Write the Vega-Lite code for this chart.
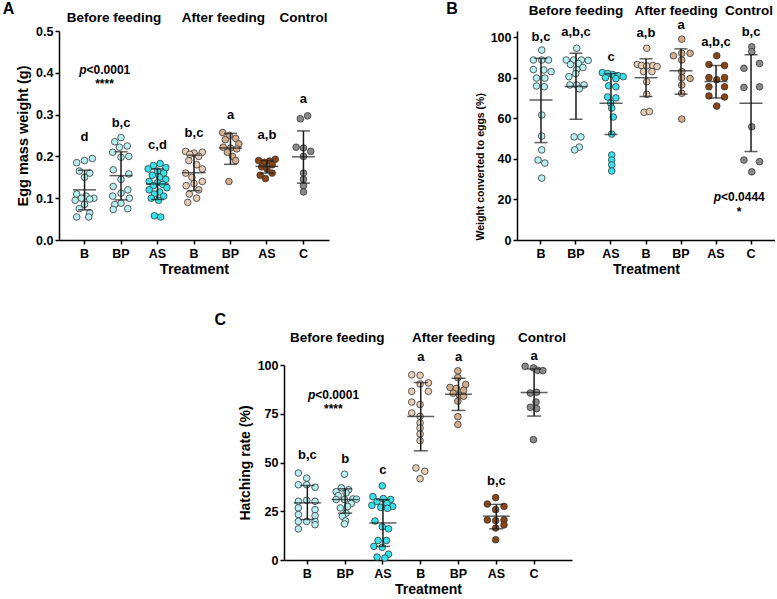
{
"$schema": "https://vega.github.io/schema/vega-lite/v6.json",
"padding": {"left": 2, "top": 0, "right": 0, "bottom": 0},
"background": "white",
"config": {
  "view": {"stroke": null},
  "font": "Liberation Sans",
  "axis": {"labelFont": "Liberation Sans", "labelFontWeight": "bold", "labelFontSize": 12.5, "labelColor": "#000", "titleFont": "Liberation Sans", "titleFontWeight": "bold", "titleFontSize": 14, "titleColor": "#000", "domainColor": "#000", "domainWidth": 1.5, "tickColor": "#000", "tickWidth": 1.5, "tickSize": 4, "grid": false},
  "axisX": {"labelAngle": 0, "labelPadding": 3, "titlePadding": 3},
  "axisY": {"labelPadding": 2, "titlePadding": 5},
  "text": {"font": "Liberation Sans", "fontWeight": "bold", "fontSize": 13, "baseline": "middle", "color": "#000"},
  "tick": {"color": "#1a1a1a", "thickness": 1.5},
  "rule": {"color": "#1a1a1a", "strokeWidth": 1.5},
  "circle": {"opacity": 1, "stroke": "#333", "strokeWidth": 0.8, "size": 44}
},
"datasets": {
"pts": [
{"p":"A","g":"1B","v":0.195,"l":1.5},{"p":"A","g":"1B","v":0.19,"l":0},{"p":"A","g":"1B","v":0.185,"l":-1.5},{"p":"A","g":"1B","v":0.165,"l":-1},{"p":"A","g":"1B","v":0.16,"l":1},{"p":"A","g":"1B","v":0.15,"l":0},{"p":"A","g":"1B","v":0.11,"l":-1.5},{"p":"A","g":"1B","v":0.105,"l":0.3},{"p":"A","g":"1B","v":0.1,"l":1.8},{"p":"A","g":"1B","v":0.1,"l":-0.6},{"p":"A","g":"1B","v":0.098,"l":1},{"p":"A","g":"1B","v":0.095,"l":-1.8},{"p":"A","g":"1B","v":0.085,"l":0},{"p":"A","g":"1B","v":0.075,"l":-1},{"p":"A","g":"1B","v":0.065,"l":1},{"p":"A","g":"1B","v":0.055,"l":-1.5},{"p":"A","g":"1B","v":0.055,"l":0.8},
{"p":"A","g":"2BP","v":0.245,"l":0},{"p":"A","g":"2BP","v":0.235,"l":-1.2},{"p":"A","g":"2BP","v":0.225,"l":1.2},{"p":"A","g":"2BP","v":0.222,"l":-0.3},{"p":"A","g":"2BP","v":0.21,"l":-1.6},{"p":"A","g":"2BP","v":0.2,"l":1.5},{"p":"A","g":"2BP","v":0.198,"l":0},{"p":"A","g":"2BP","v":0.168,"l":-1.5},{"p":"A","g":"2BP","v":0.158,"l":1.5},{"p":"A","g":"2BP","v":0.145,"l":0},{"p":"A","g":"2BP","v":0.128,"l":-1.5},{"p":"A","g":"2BP","v":0.12,"l":1.3},{"p":"A","g":"2BP","v":0.112,"l":0},{"p":"A","g":"2BP","v":0.105,"l":-1.6},{"p":"A","g":"2BP","v":0.1,"l":1.6},{"p":"A","g":"2BP","v":0.088,"l":0},{"p":"A","g":"2BP","v":0.085,"l":-1.2},{"p":"A","g":"2BP","v":0.075,"l":1.3},{"p":"A","g":"2BP","v":0.073,"l":-1.5},
{"p":"A","g":"3AS","v":0.183,"l":0.5},{"p":"A","g":"3AS","v":0.178,"l":-0.8},{"p":"A","g":"3AS","v":0.173,"l":1.6},{"p":"A","g":"3AS","v":0.17,"l":-1.8},{"p":"A","g":"3AS","v":0.165,"l":0},{"p":"A","g":"3AS","v":0.16,"l":1.2},{"p":"A","g":"3AS","v":0.155,"l":-1},{"p":"A","g":"3AS","v":0.15,"l":0.4},{"p":"A","g":"3AS","v":0.145,"l":1.6},{"p":"A","g":"3AS","v":0.14,"l":-1.6},{"p":"A","g":"3AS","v":0.137,"l":0},{"p":"A","g":"3AS","v":0.133,"l":1},{"p":"A","g":"3AS","v":0.13,"l":-0.8},{"p":"A","g":"3AS","v":0.125,"l":1.8},{"p":"A","g":"3AS","v":0.12,"l":-1.6},{"p":"A","g":"3AS","v":0.115,"l":0.4},{"p":"A","g":"3AS","v":0.11,"l":-0.6},{"p":"A","g":"3AS","v":0.105,"l":1.2},{"p":"A","g":"3AS","v":0.1,"l":-1.2},{"p":"A","g":"3AS","v":0.095,"l":0.2},{"p":"A","g":"3AS","v":0.058,"l":-0.6},{"p":"A","g":"3AS","v":0.055,"l":0.6},
{"p":"A","g":"4B","v":0.212,"l":-1.6},{"p":"A","g":"4B","v":0.21,"l":1.6},{"p":"A","g":"4B","v":0.208,"l":0},{"p":"A","g":"4B","v":0.205,"l":-0.8},{"p":"A","g":"4B","v":0.2,"l":0.9},{"p":"A","g":"4B","v":0.19,"l":-1},{"p":"A","g":"4B","v":0.18,"l":0.5},{"p":"A","g":"4B","v":0.17,"l":1.6},{"p":"A","g":"4B","v":0.16,"l":-1.6},{"p":"A","g":"4B","v":0.15,"l":-0.4},{"p":"A","g":"4B","v":0.14,"l":1.6},{"p":"A","g":"4B","v":0.135,"l":0},{"p":"A","g":"4B","v":0.13,"l":-1.5},{"p":"A","g":"4B","v":0.12,"l":0.9},{"p":"A","g":"4B","v":0.11,"l":-0.9},{"p":"A","g":"4B","v":0.1,"l":0.5},{"p":"A","g":"4B","v":0.09,"l":-1.2},
{"p":"A","g":"5BP","v":0.257,"l":-1.5},{"p":"A","g":"5BP","v":0.25,"l":-0.2},{"p":"A","g":"5BP","v":0.243,"l":1},{"p":"A","g":"5BP","v":0.24,"l":-1},{"p":"A","g":"5BP","v":0.23,"l":1.6},{"p":"A","g":"5BP","v":0.222,"l":-1.4},{"p":"A","g":"5BP","v":0.22,"l":0},{"p":"A","g":"5BP","v":0.218,"l":1.2},{"p":"A","g":"5BP","v":0.21,"l":-0.6},{"p":"A","g":"5BP","v":0.2,"l":0.4},{"p":"A","g":"5BP","v":0.19,"l":1},{"p":"A","g":"5BP","v":0.14,"l":-0.3},
{"p":"A","g":"6AS","v":0.193,"l":1.6},{"p":"A","g":"6AS","v":0.19,"l":-1.6},{"p":"A","g":"6AS","v":0.189,"l":0.5},{"p":"A","g":"6AS","v":0.186,"l":-0.5},{"p":"A","g":"6AS","v":0.18,"l":1},{"p":"A","g":"6AS","v":0.175,"l":-1},{"p":"A","g":"6AS","v":0.17,"l":0},{"p":"A","g":"6AS","v":0.16,"l":1},{"p":"A","g":"6AS","v":0.155,"l":-1.3},{"p":"A","g":"6AS","v":0.147,"l":-0.3},
{"p":"A","g":"7C","v":0.297,"l":0.8},{"p":"A","g":"7C","v":0.29,"l":-0.6},{"p":"A","g":"7C","v":0.222,"l":-1.4},{"p":"A","g":"7C","v":0.22,"l":0},{"p":"A","g":"7C","v":0.212,"l":1.4},{"p":"A","g":"7C","v":0.2,"l":0},{"p":"A","g":"7C","v":0.16,"l":0},{"p":"A","g":"7C","v":0.145,"l":0},{"p":"A","g":"7C","v":0.13,"l":0},{"p":"A","g":"7C","v":0.115,"l":0},
{"p":"B","g":"1B","v":93.6,"l":0},{"p":"B","g":"1B","v":88.7,"l":-1.6},{"p":"B","g":"1B","v":88.7,"l":0},{"p":"B","g":"1B","v":88.7,"l":1.3},{"p":"B","g":"1B","v":84,"l":-1.6},{"p":"B","g":"1B","v":83.8,"l":0.4},{"p":"B","g":"1B","v":83,"l":1.8},{"p":"B","g":"1B","v":79.8,"l":-1},{"p":"B","g":"1B","v":79.8,"l":0.6},{"p":"B","g":"1B","v":75.9,"l":-1},{"p":"B","g":"1B","v":75.5,"l":0.5},{"p":"B","g":"1B","v":61.6,"l":0},{"p":"B","g":"1B","v":51.2,"l":0},{"p":"B","g":"1B","v":44.4,"l":0},{"p":"B","g":"1B","v":39.4,"l":-0.7},{"p":"B","g":"1B","v":37.9,"l":0.6},{"p":"B","g":"1B","v":30.5,"l":0},
{"p":"B","g":"2BP","v":94.5,"l":0},{"p":"B","g":"2BP","v":88.7,"l":-2},{"p":"B","g":"2BP","v":88.7,"l":-0.6},{"p":"B","g":"2BP","v":88.7,"l":0.9},{"p":"B","g":"2BP","v":88.5,"l":2.2},{"p":"B","g":"2BP","v":87,"l":0.3},{"p":"B","g":"2BP","v":86.5,"l":-1.2},{"p":"B","g":"2BP","v":85,"l":1.2},{"p":"B","g":"2BP","v":84,"l":0},{"p":"B","g":"2BP","v":82,"l":-0.2},{"p":"B","g":"2BP","v":80.5,"l":-1.5},{"p":"B","g":"2BP","v":76.4,"l":-1.3},{"p":"B","g":"2BP","v":76.4,"l":0},{"p":"B","g":"2BP","v":76.4,"l":1.4},{"p":"B","g":"2BP","v":74.5,"l":0.5},{"p":"B","g":"2BP","v":50.8,"l":-0.5},{"p":"B","g":"2BP","v":50.8,"l":0.8},{"p":"B","g":"2BP","v":45.8,"l":0.5},{"p":"B","g":"2BP","v":44.4,"l":-0.4},
{"p":"B","g":"3AS","v":82.5,"l":-1.8},{"p":"B","g":"3AS","v":82,"l":-0.8},{"p":"B","g":"3AS","v":81.5,"l":0.2},{"p":"B","g":"3AS","v":81,"l":1.2},{"p":"B","g":"3AS","v":80.5,"l":2.2},{"p":"B","g":"3AS","v":80,"l":-1.2},{"p":"B","g":"3AS","v":79.5,"l":0.8},{"p":"B","g":"3AS","v":76,"l":-0.6},{"p":"B","g":"3AS","v":75.5,"l":0.8},{"p":"B","g":"3AS","v":70.5,"l":-0.8},{"p":"B","g":"3AS","v":70,"l":0.8},{"p":"B","g":"3AS","v":67.5,"l":-0.2},{"p":"B","g":"3AS","v":65,"l":0},{"p":"B","g":"3AS","v":60.6,"l":0.3},{"p":"B","g":"3AS","v":52.2,"l":0},{"p":"B","g":"3AS","v":41.9,"l":0},{"p":"B","g":"3AS","v":39.4,"l":0},{"p":"B","g":"3AS","v":37,"l":0},{"p":"B","g":"3AS","v":34,"l":0},
{"p":"B","g":"4B","v":94.5,"l":0},{"p":"B","g":"4B","v":86.5,"l":-1.8},{"p":"B","g":"4B","v":86,"l":-1},{"p":"B","g":"4B","v":85.8,"l":0},{"p":"B","g":"4B","v":86,"l":1.2},{"p":"B","g":"4B","v":85.5,"l":2},{"p":"B","g":"4B","v":83,"l":-0.6},{"p":"B","g":"4B","v":83,"l":1},{"p":"B","g":"4B","v":78,"l":0},{"p":"B","g":"4B","v":71.8,"l":0},{"p":"B","g":"4B","v":62.9,"l":-0.5},{"p":"B","g":"4B","v":63.3,"l":0.5},
{"p":"B","g":"5BP","v":99,"l":0},{"p":"B","g":"5BP","v":92,"l":1.6},{"p":"B","g":"5BP","v":92,"l":0},{"p":"B","g":"5BP","v":90.8,"l":-1.6},{"p":"B","g":"5BP","v":88.7,"l":0},{"p":"B","g":"5BP","v":83,"l":0},{"p":"B","g":"5BP","v":80,"l":0},{"p":"B","g":"5BP","v":79.6,"l":1.6},{"p":"B","g":"5BP","v":76.4,"l":0},{"p":"B","g":"5BP","v":72.3,"l":0},{"p":"B","g":"5BP","v":59.6,"l":0},
{"p":"B","g":"6AS","v":90.8,"l":0},{"p":"B","g":"6AS","v":86.5,"l":-1.5},{"p":"B","g":"6AS","v":86,"l":1.5},{"p":"B","g":"6AS","v":80,"l":-1.5},{"p":"B","g":"6AS","v":80,"l":1.5},{"p":"B","g":"6AS","v":79,"l":0},{"p":"B","g":"6AS","v":75.5,"l":-1.5},{"p":"B","g":"6AS","v":75.5,"l":1.5},{"p":"B","g":"6AS","v":71,"l":-1.5},{"p":"B","g":"6AS","v":70.5,"l":1.5},{"p":"B","g":"6AS","v":66,"l":0},
{"p":"B","g":"7C","v":95.2,"l":0},{"p":"B","g":"7C","v":92.8,"l":0},{"p":"B","g":"7C","v":87,"l":1.5},{"p":"B","g":"7C","v":84.6,"l":-1.5},{"p":"B","g":"7C","v":75.5,"l":1.5},{"p":"B","g":"7C","v":75.2,"l":-1.5},{"p":"B","g":"7C","v":55.8,"l":0},{"p":"B","g":"7C","v":39.4,"l":-1.5},{"p":"B","g":"7C","v":38.6,"l":1.5},{"p":"B","g":"7C","v":33.6,"l":0},
{"p":"C","g":"1B","v":44.6,"l":-1.6},{"p":"C","g":"1B","v":42,"l":0},{"p":"C","g":"1B","v":38.6,"l":-1.6},{"p":"C","g":"1B","v":38.6,"l":0},{"p":"C","g":"1B","v":37.3,"l":1.6},{"p":"C","g":"1B","v":30.6,"l":0},{"p":"C","g":"1B","v":30.1,"l":-1.6},{"p":"C","g":"1B","v":30.1,"l":1.6},{"p":"C","g":"1B","v":26.7,"l":-1.6},{"p":"C","g":"1B","v":25.8,"l":1.6},{"p":"C","g":"1B","v":23.3,"l":-1.6},{"p":"C","g":"1B","v":22.7,"l":1.6},{"p":"C","g":"1B","v":19.8,"l":-1.6},{"p":"C","g":"1B","v":19.8,"l":0},{"p":"C","g":"1B","v":19.8,"l":1.6},{"p":"C","g":"1B","v":18.1,"l":1.6},{"p":"C","g":"1B","v":16,"l":-1.6},
{"p":"C","g":"2BP","v":44,"l":0},{"p":"C","g":"2BP","v":37,"l":-0.6},{"p":"C","g":"2BP","v":36,"l":0.8},{"p":"C","g":"2BP","v":35,"l":-1.6},{"p":"C","g":"2BP","v":34.4,"l":0.3},{"p":"C","g":"2BP","v":33,"l":-1.2},{"p":"C","g":"2BP","v":31.3,"l":1.6},{"p":"C","g":"2BP","v":31,"l":-1.6},{"p":"C","g":"2BP","v":31,"l":0},{"p":"C","g":"2BP","v":31.2,"l":2.3},{"p":"C","g":"2BP","v":29,"l":1.3},{"p":"C","g":"2BP","v":27.5,"l":0.6},{"p":"C","g":"2BP","v":26.7,"l":-0.8},{"p":"C","g":"2BP","v":24,"l":0.3},{"p":"C","g":"2BP","v":22.4,"l":-0.4},{"p":"C","g":"2BP","v":20,"l":0.2},{"p":"C","g":"2BP","v":18.5,"l":0},
{"p":"C","g":"3AS","v":38,"l":0},{"p":"C","g":"3AS","v":32.5,"l":-1.8},{"p":"C","g":"3AS","v":31.5,"l":0.2},{"p":"C","g":"3AS","v":31,"l":1.6},{"p":"C","g":"3AS","v":30,"l":-1},{"p":"C","g":"3AS","v":29,"l":0.9},{"p":"C","g":"3AS","v":28,"l":-2},{"p":"C","g":"3AS","v":27.5,"l":2},{"p":"C","g":"3AS","v":27,"l":-0.3},{"p":"C","g":"3AS","v":26.5,"l":1},{"p":"C","g":"3AS","v":20,"l":-1.4},{"p":"C","g":"3AS","v":17,"l":0},{"p":"C","g":"3AS","v":16,"l":1.2},{"p":"C","g":"3AS","v":10,"l":-0.8},{"p":"C","g":"3AS","v":10,"l":0.8},{"p":"C","g":"3AS","v":7,"l":-1.6},{"p":"C","g":"3AS","v":6.5,"l":0},{"p":"C","g":"3AS","v":3,"l":1.2},{"p":"C","g":"3AS","v":1.5,"l":-1},{"p":"C","g":"3AS","v":1,"l":0.5},
{"p":"C","g":"4B","v":95,"l":-1.6},{"p":"C","g":"4B","v":94.7,"l":0},{"p":"C","g":"4B","v":90.8,"l":1.6},{"p":"C","g":"4B","v":90.3,"l":0},{"p":"C","g":"4B","v":86.5,"l":-1.6},{"p":"C","g":"4B","v":86.5,"l":1.6},{"p":"C","g":"4B","v":81,"l":-1.6},{"p":"C","g":"4B","v":79.7,"l":0},{"p":"C","g":"4B","v":75.4,"l":-1.6},{"p":"C","g":"4B","v":73.7,"l":0},{"p":"C","g":"4B","v":70.3,"l":0},{"p":"C","g":"4B","v":67.7,"l":0},{"p":"C","g":"4B","v":64.6,"l":0},{"p":"C","g":"4B","v":61.2,"l":0},{"p":"C","g":"4B","v":47.2,"l":-0.8},{"p":"C","g":"4B","v":45.5,"l":0.9},{"p":"C","g":"4B","v":41.7,"l":0},
{"p":"C","g":"5BP","v":97,"l":0},{"p":"C","g":"5BP","v":93.5,"l":0},{"p":"C","g":"5BP","v":90,"l":1.5},{"p":"C","g":"5BP","v":88.5,"l":-1.5},{"p":"C","g":"5BP","v":88,"l":-0.3},{"p":"C","g":"5BP","v":87,"l":1.1},{"p":"C","g":"5BP","v":85.5,"l":-0.9},{"p":"C","g":"5BP","v":84.5,"l":0.3},{"p":"C","g":"5BP","v":84,"l":1.1},{"p":"C","g":"5BP","v":81.5,"l":0},{"p":"C","g":"5BP","v":73.5,"l":0},{"p":"C","g":"5BP","v":69.5,"l":0},
{"p":"C","g":"6AS","v":32,"l":0},{"p":"C","g":"6AS","v":28.7,"l":-1.6},{"p":"C","g":"6AS","v":27.5,"l":1.6},{"p":"C","g":"6AS","v":25.8,"l":0},{"p":"C","g":"6AS","v":20.5,"l":-1.6},{"p":"C","g":"6AS","v":20.2,"l":0},{"p":"C","g":"6AS","v":20.5,"l":1.6},{"p":"C","g":"6AS","v":18,"l":1.6},{"p":"C","g":"6AS","v":16.4,"l":0},{"p":"C","g":"6AS","v":10.4,"l":0},
{"p":"C","g":"7C","v":99.3,"l":-1.6},{"p":"C","g":"7C","v":98.5,"l":0},{"p":"C","g":"7C","v":97.3,"l":0.8},{"p":"C","g":"7C","v":97.1,"l":1.8},{"p":"C","g":"7C","v":85.6,"l":-0.6},{"p":"C","g":"7C","v":86,"l":0.6},{"p":"C","g":"7C","v":81,"l":0.5},{"p":"C","g":"7C","v":78.3,"l":-0.6},{"p":"C","g":"7C","v":77.6,"l":0.6},{"p":"C","g":"7C","v":61.7,"l":0}
],
"sm": [
{"p":"A","g":"1B","v":0.12,"lo":0.072,"hi":0.167},{"p":"A","g":"2BP","v":0.154,"lo":0.096,"hi":0.211},{"p":"A","g":"3AS","v":0.134,"lo":0.097,"hi":0.17},{"p":"A","g":"4B","v":0.161,"lo":0.118,"hi":0.203},{"p":"A","g":"5BP","v":0.22,"lo":0.181,"hi":0.255},{"p":"A","g":"6AS","v":0.176,"lo":0.16,"hi":0.19},{"p":"A","g":"7C","v":0.199,"lo":0.136,"hi":0.261},
{"p":"B","g":"1B","v":69,"lo":48,"hi":89.5},{"p":"B","g":"2BP","v":75.7,"lo":59.5,"hi":92},{"p":"B","g":"3AS","v":67.4,"lo":52,"hi":82},{"p":"B","g":"4B","v":80,"lo":70.7,"hi":89.3},{"p":"B","g":"5BP","v":83.4,"lo":71.9,"hi":94.2},{"p":"B","g":"6AS","v":78.1,"lo":70,"hi":86},{"p":"B","g":"7C","v":67.4,"lo":43.6,"hi":91.3},
{"p":"C","g":"1B","v":29.3,"lo":20.8,"hi":38.2},{"p":"C","g":"2BP","v":31,"lo":24,"hi":36.5},{"p":"C","g":"3AS","v":19,"lo":7,"hi":31},{"p":"C","g":"4B","v":73.6,"lo":56,"hi":91},{"p":"C","g":"5BP","v":85,"lo":76.7,"hi":93.2},{"p":"C","g":"6AS","v":22.5,"lo":16,"hi":28.5},{"p":"C","g":"7C","v":85.9,"lo":73.8,"hi":98}
],
"an": [
{"p":"A","k":"sig","g":"1B","v":0.246,"t":"d"},{"p":"A","k":"sig","g":"2BP","v":0.281,"t":"b,c"},{"p":"A","k":"sig","g":"3AS","v":0.227,"t":"c,d"},{"p":"A","k":"sig","g":"4B","v":0.255,"t":"b,c"},{"p":"A","k":"sig","g":"5BP","v":0.3,"t":"a"},{"p":"A","k":"sig","g":"6AS","v":0.251,"t":"a,b"},{"p":"A","k":"sig","g":"7C","v":0.337,"t":"a"},
{"p":"A","k":"h1","g":"2BP","v":0.53,"t":"Before feeding"},{"p":"A","k":"h2","g":"5BP","v":0.53,"t":"After feeding"},{"p":"A","k":"h3","g":"7C","v":0.53,"t":"Control"},
{"p":"A","k":"pv","g":"1B","v":0.407,"t":"<0.0001"},{"p":"A","k":"st","g":"1B","v":0.373,"t":"****"},{"p":"A","k":"L","g":"1B","v":0.553,"t":"A"},
{"p":"B","k":"sig","g":"1B","v":100,"t":"b,c"},{"p":"B","k":"sig","g":"2BP","v":102.5,"t":"a,b,c"},{"p":"B","k":"sig","g":"3AS","v":90,"t":"c"},{"p":"B","k":"sig","g":"4B","v":102,"t":"a,b"},{"p":"B","k":"sig","g":"5BP","v":106,"t":"a"},{"p":"B","k":"sig","g":"6AS","v":97.5,"t":"a,b,c"},{"p":"B","k":"sig","g":"7C","v":102.5,"t":"b,c"},
{"p":"B","k":"h1","g":"2BP","v":112.9,"t":"Before feeding"},{"p":"B","k":"h2","g":"5BP","v":112.9,"t":"After feeding"},{"p":"B","k":"h3","g":"7C","v":112.9,"t":"Control"},
{"p":"B","k":"pv","g":"7C","v":21.2,"t":"<0.0444"},{"p":"B","k":"st","g":"7C","v":13.8,"t":"*"},{"p":"B","k":"L","g":"1B","v":113.6,"t":"B"},
{"p":"C","k":"sig","g":"1B","v":54,"t":"b,c"},{"p":"C","k":"sig","g":"2BP","v":51.6,"t":"b"},{"p":"C","k":"sig","g":"3AS","v":46.3,"t":"c"},{"p":"C","k":"sig","g":"4B","v":104,"t":"a"},{"p":"C","k":"sig","g":"5BP","v":104,"t":"a"},{"p":"C","k":"sig","g":"6AS","v":40.4,"t":"b,c"},{"p":"C","k":"sig","g":"7C","v":104.8,"t":"a"},
{"p":"C","k":"h1","g":"2BP","v":113.8,"t":"Before feeding"},{"p":"C","k":"h2","g":"5BP","v":113.8,"t":"After feeding"},{"p":"C","k":"h3","g":"7C","v":113.8,"t":"Control"},
{"p":"C","k":"pv","g":"1B","v":84.6,"t":"<0.0001"},{"p":"C","k":"st","g":"1B","v":77.4,"t":"****"},{"p":"C","k":"L","g":"1B","v":123.3,"t":"C"}
]
},
"spacing": 34,
"vconcat": [
{
"spacing": 117,
"hconcat": [
{
"width": 270, "height": 209,
"encoding": {"x": {"field": "g", "type": "nominal", "title": "Treatment", "scale": {"domain": ["1B","2BP","3AS","4B","5BP","6AS","7C"], "paddingInner": 0, "paddingOuter": 0.2}, "axis": {"labelExpr": "slice(datum.label, 1)", "titleFontSize": 14.5}}},
"layer": [
{"data": {"name": "pts"}, "transform": [{"filter": "datum.p == 'A'"}], "mark": "circle",
 "encoding": {"y": {"field": "v", "type": "quantitative", "title": "Egg mass weight (g)", "scale": {"domain": [0, 0.5], "nice": false}, "axis": {"values": [0, 0.1, 0.2, 0.3, 0.4, 0.5], "format": ".1f", "titleFontSize": 14.5}},
  "xOffset": {"field": "l", "type": "quantitative", "scale": {"domain": [-3.5, 3.5]}},
  "fill": {"field": "g", "type": "nominal", "scale": {"domain": ["1B","2BP","3AS","4B","5BP","6AS","7C"], "range": ["#B9F1F2","#B9F1F2","#35E4EC","#E6CDB5","#D4AE8A","#8B4513","#8A8A8A"]}, "legend": null}}},
{"data": {"name": "sm"}, "transform": [{"filter": "datum.p == 'A'"}], "mark": "rule", "encoding": {"y": {"field": "lo", "type": "quantitative", "title": "Egg mass weight (g)"}, "y2": {"field": "hi"}}},
{"data": {"name": "sm"}, "transform": [{"filter": "datum.p == 'A'"}], "mark": {"type": "tick", "size": 23}, "encoding": {"y": {"field": "v", "type": "quantitative", "title": "Egg mass weight (g)"}}},
{"data": {"name": "sm"}, "transform": [{"filter": "datum.p == 'A'"}], "mark": {"type": "tick", "size": 13}, "encoding": {"y": {"field": "lo", "type": "quantitative", "title": "Egg mass weight (g)"}}},
{"data": {"name": "sm"}, "transform": [{"filter": "datum.p == 'A'"}], "mark": {"type": "tick", "size": 13}, "encoding": {"y": {"field": "hi", "type": "quantitative", "title": "Egg mass weight (g)"}}},
{"data": {"name": "an"}, "transform": [{"filter": "datum.p == 'A' && datum.k == 'sig'"}], "mark": {"type": "text"}, "encoding": {"y": {"field": "v", "type": "quantitative", "title": "Egg mass weight (g)"}, "text": {"field": "t"}}},
{"data": {"name": "an"}, "transform": [{"filter": "datum.p == 'A' && (datum.k == 'h1' || datum.k == 'h2')"}], "mark": {"type": "text", "fontSize": 13.5, "dx": -7}, "encoding": {"y": {"field": "v", "type": "quantitative", "title": "Egg mass weight (g)"}, "text": {"field": "t"}}},
{"data": {"name": "an"}, "transform": [{"filter": "datum.p == 'A' && datum.k == 'h3'"}], "mark": {"type": "text", "fontSize": 13.5, "dx": 0}, "encoding": {"y": {"field": "v", "type": "quantitative", "title": "Egg mass weight (g)"}, "text": {"field": "t"}}},
{"data": {"name": "an"}, "transform": [{"filter": "datum.p == 'A' && datum.k == 'pv'"}], "mark": {"type": "text", "fontSize": 12, "fontStyle": "italic", "align": "right", "dx": 2, "text": "p"}, "encoding": {"y": {"field": "v", "type": "quantitative", "title": "Egg mass weight (g)"}}},
{"data": {"name": "an"}, "transform": [{"filter": "datum.p == 'A' && datum.k == 'pv'"}], "mark": {"type": "text", "fontSize": 12, "align": "left", "dx": 2}, "encoding": {"y": {"field": "v", "type": "quantitative", "title": "Egg mass weight (g)"}, "text": {"field": "t"}}},
{"data": {"name": "an"}, "transform": [{"filter": "datum.p == 'A' && datum.k == 'st'"}], "mark": {"type": "text", "fontSize": 12, "dx": 20}, "encoding": {"y": {"field": "v", "type": "quantitative", "title": "Egg mass weight (g)"}, "text": {"field": "t"}}},
{"data": {"name": "an"}, "transform": [{"filter": "datum.p == 'A' && datum.k == 'L'"}], "mark": {"type": "text", "fontSize": 16, "dx": -76}, "encoding": {"y": {"field": "v", "type": "quantitative", "title": "Egg mass weight (g)"}, "text": {"field": "t"}}}
]
},
{
"width": 258, "height": 209,
"encoding": {"x": {"field": "g", "type": "nominal", "title": "Treatment", "scale": {"domain": ["1B","2BP","3AS","4B","5BP","6AS","7C"], "paddingInner": 0, "paddingOuter": 0.185}, "axis": {"labelExpr": "slice(datum.label, 1)"}}},
"layer": [
{"data": {"name": "pts"}, "transform": [{"filter": "datum.p == 'B'"}], "mark": "circle",
 "encoding": {"y": {"field": "v", "type": "quantitative", "title": "Weight converted to eggs (%)", "scale": {"domain": [0, 103], "nice": false}, "axis": {"values": [0, 20, 40, 60, 80, 100], "titleFontSize": 10.5, "titleAnchor": "start"}},
  "xOffset": {"field": "l", "type": "quantitative", "scale": {"domain": [-3.5, 3.5]}},
  "fill": {"field": "g", "type": "nominal", "scale": {"domain": ["1B","2BP","3AS","4B","5BP","6AS","7C"], "range": ["#B9F1F2","#B9F1F2","#35E4EC","#E6CDB5","#D4AE8A","#8B4513","#8A8A8A"]}, "legend": null}}},
{"data": {"name": "sm"}, "transform": [{"filter": "datum.p == 'B'"}], "mark": "rule", "encoding": {"y": {"field": "lo", "type": "quantitative", "title": "Weight converted to eggs (%)"}, "y2": {"field": "hi"}}},
{"data": {"name": "sm"}, "transform": [{"filter": "datum.p == 'B'"}], "mark": {"type": "tick", "size": 23}, "encoding": {"y": {"field": "v", "type": "quantitative", "title": "Weight converted to eggs (%)"}}},
{"data": {"name": "sm"}, "transform": [{"filter": "datum.p == 'B'"}], "mark": {"type": "tick", "size": 13}, "encoding": {"y": {"field": "lo", "type": "quantitative", "title": "Weight converted to eggs (%)"}}},
{"data": {"name": "sm"}, "transform": [{"filter": "datum.p == 'B'"}], "mark": {"type": "tick", "size": 13}, "encoding": {"y": {"field": "hi", "type": "quantitative", "title": "Weight converted to eggs (%)"}}},
{"data": {"name": "an"}, "transform": [{"filter": "datum.p == 'B' && datum.k == 'sig'"}], "mark": {"type": "text"}, "encoding": {"y": {"field": "v", "type": "quantitative", "title": "Weight converted to eggs (%)"}, "text": {"field": "t"}}},
{"data": {"name": "an"}, "transform": [{"filter": "datum.p == 'B' && datum.k == 'h1'"}], "mark": {"type": "text", "fontSize": 13.5, "dx": 0}, "encoding": {"y": {"field": "v", "type": "quantitative", "title": "Weight converted to eggs (%)"}, "text": {"field": "t"}}},
{"data": {"name": "an"}, "transform": [{"filter": "datum.p == 'B' && datum.k == 'h2'"}], "mark": {"type": "text", "fontSize": 13.5, "dx": -5}, "encoding": {"y": {"field": "v", "type": "quantitative", "title": "Weight converted to eggs (%)"}, "text": {"field": "t"}}},
{"data": {"name": "an"}, "transform": [{"filter": "datum.p == 'B' && datum.k == 'h3'"}], "mark": {"type": "text", "fontSize": 13.5, "dx": -2}, "encoding": {"y": {"field": "v", "type": "quantitative", "title": "Weight converted to eggs (%)"}, "text": {"field": "t"}}},
{"data": {"name": "an"}, "transform": [{"filter": "datum.p == 'B' && datum.k == 'pv'"}], "mark": {"type": "text", "fontSize": 12, "fontStyle": "italic", "align": "right", "dx": -30, "text": "p"}, "encoding": {"y": {"field": "v", "type": "quantitative", "title": "Weight converted to eggs (%)"}}},
{"data": {"name": "an"}, "transform": [{"filter": "datum.p == 'B' && datum.k == 'pv'"}], "mark": {"type": "text", "fontSize": 12, "align": "left", "dx": -30}, "encoding": {"y": {"field": "v", "type": "quantitative", "title": "Weight converted to eggs (%)"}, "text": {"field": "t"}}},
{"data": {"name": "an"}, "transform": [{"filter": "datum.p == 'B' && datum.k == 'st'"}], "mark": {"type": "text", "fontSize": 12, "dx": -12}, "encoding": {"y": {"field": "v", "type": "quantitative", "title": "Weight converted to eggs (%)"}, "text": {"field": "t"}}},
{"data": {"name": "an"}, "transform": [{"filter": "datum.p == 'B' && datum.k == 'L'"}], "mark": {"type": "text", "fontSize": 16, "dx": -89}, "encoding": {"y": {"field": "v", "type": "quantitative", "title": "Weight converted to eggs (%)"}, "text": {"field": "t"}}}
]
}
]
},
{
"spacing": 0,
"hconcat": [
{"width": 155, "height": 1, "data": {"values": [{"s": 1}]}, "mark": {"type": "point", "opacity": 0}, "encoding": {}},
{
"width": 288, "height": 195,
"encoding": {"x": {"field": "g", "type": "nominal", "title": "Treatment", "scale": {"domain": ["1B","2BP","3AS","4B","5BP","6AS","7C"], "paddingInner": 0, "paddingOuter": 0.31, "align": 0.19}, "axis": {"labelExpr": "slice(datum.label, 1)"}}},
"layer": [
{"data": {"name": "pts"}, "transform": [{"filter": "datum.p == 'C'"}], "mark": "circle",
 "encoding": {"y": {"field": "v", "type": "quantitative", "title": "Hatching rate (%)", "scale": {"domain": [0, 100], "nice": false}, "axis": {"values": [0, 25, 50, 75, 100]}},
  "xOffset": {"field": "l", "type": "quantitative", "scale": {"domain": [-3.5, 3.5]}},
  "fill": {"field": "g", "type": "nominal", "scale": {"domain": ["1B","2BP","3AS","4B","5BP","6AS","7C"], "range": ["#B9F1F2","#B9F1F2","#35E4EC","#E6CDB5","#D4AE8A","#8B4513","#8A8A8A"]}, "legend": null}}},
{"data": {"name": "sm"}, "transform": [{"filter": "datum.p == 'C'"}], "mark": "rule", "encoding": {"y": {"field": "lo", "type": "quantitative", "title": "Hatching rate (%)"}, "y2": {"field": "hi"}}},
{"data": {"name": "sm"}, "transform": [{"filter": "datum.p == 'C'"}], "mark": {"type": "tick", "size": 27}, "encoding": {"y": {"field": "v", "type": "quantitative", "title": "Hatching rate (%)"}}},
{"data": {"name": "sm"}, "transform": [{"filter": "datum.p == 'C'"}], "mark": {"type": "tick", "size": 14}, "encoding": {"y": {"field": "lo", "type": "quantitative", "title": "Hatching rate (%)"}}},
{"data": {"name": "sm"}, "transform": [{"filter": "datum.p == 'C'"}], "mark": {"type": "tick", "size": 14}, "encoding": {"y": {"field": "hi", "type": "quantitative", "title": "Hatching rate (%)"}}},
{"data": {"name": "an"}, "transform": [{"filter": "datum.p == 'C' && datum.k == 'sig'"}], "mark": {"type": "text"}, "encoding": {"y": {"field": "v", "type": "quantitative", "title": "Hatching rate (%)"}, "text": {"field": "t"}}},
{"data": {"name": "an"}, "transform": [{"filter": "datum.p == 'C' && datum.k == 'h1'"}], "mark": {"type": "text", "fontSize": 13.5, "dx": -8}, "encoding": {"y": {"field": "v", "type": "quantitative", "title": "Hatching rate (%)"}, "text": {"field": "t"}}},
{"data": {"name": "an"}, "transform": [{"filter": "datum.p == 'C' && datum.k == 'h2'"}], "mark": {"type": "text", "fontSize": 13.5, "dx": -5}, "encoding": {"y": {"field": "v", "type": "quantitative", "title": "Hatching rate (%)"}, "text": {"field": "t"}}},
{"data": {"name": "an"}, "transform": [{"filter": "datum.p == 'C' && datum.k == 'h3'"}], "mark": {"type": "text", "fontSize": 13.5, "dx": 8}, "encoding": {"y": {"field": "v", "type": "quantitative", "title": "Hatching rate (%)"}, "text": {"field": "t"}}},
{"data": {"name": "an"}, "transform": [{"filter": "datum.p == 'C' && datum.k == 'pv'"}], "mark": {"type": "text", "fontSize": 12, "fontStyle": "italic", "align": "right", "dx": 8, "text": "p"}, "encoding": {"y": {"field": "v", "type": "quantitative", "title": "Hatching rate (%)"}}},
{"data": {"name": "an"}, "transform": [{"filter": "datum.p == 'C' && datum.k == 'pv'"}], "mark": {"type": "text", "fontSize": 12, "align": "left", "dx": 8}, "encoding": {"y": {"field": "v", "type": "quantitative", "title": "Hatching rate (%)"}, "text": {"field": "t"}}},
{"data": {"name": "an"}, "transform": [{"filter": "datum.p == 'C' && datum.k == 'st'"}], "mark": {"type": "text", "fontSize": 12, "dx": 26}, "encoding": {"y": {"field": "v", "type": "quantitative", "title": "Hatching rate (%)"}, "text": {"field": "t"}}},
{"data": {"name": "an"}, "transform": [{"filter": "datum.p == 'C' && datum.k == 'L'"}], "mark": {"type": "text", "fontSize": 16, "dx": -87}, "encoding": {"y": {"field": "v", "type": "quantitative", "title": "Hatching rate (%)"}, "text": {"field": "t"}}}
]
}
]
}
]
}
